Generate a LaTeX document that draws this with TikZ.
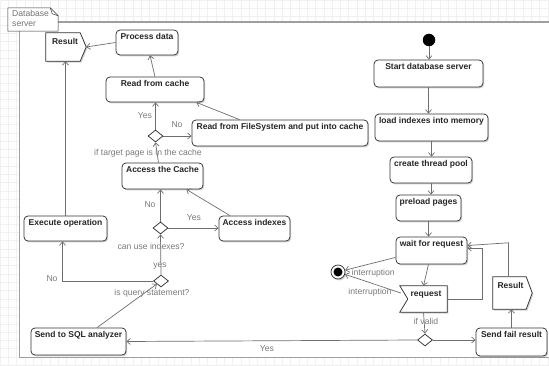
\documentclass[tikz,border=0pt]{standalone}
\usepackage{fontspec}
\setmainfont{Liberation Sans}
\usetikzlibrary{shapes.geometric,arrows.meta,calc,shadows}
\definecolor{lineg}{HTML}{6E6E6E}
\definecolor{txtg}{HTML}{7A7A7A}
\definecolor{gridc}{HTML}{F0F0F0}
\definecolor{boxc}{HTML}{333333}
\begin{document}
\begin{tikzpicture}[x=1pt,y=-1pt,
  shad/.style={drop shadow={shadow xshift=1.2pt,shadow yshift=-1.4pt,opacity=0.18,fill=black}},
  box/.style={draw=boxc, line width=0.75pt, rounded corners=4pt, fill=white, shad, inner sep=0pt},
  ghost/.style={inner sep=0pt},
  lab/.style={anchor=north, yshift=-2.6pt, font=\bfseries\fontsize{8.5}{10}\selectfont, text=black!85, inner sep=0.5pt},
  elab/.style={font=\fontsize{8.6}{10}\selectfont, text=txtg, inner sep=0.5pt},
  dec/.style={diamond, draw=boxc, line width=0.75pt, fill=white, minimum width=15pt, minimum height=12pt, inner sep=0pt},
  arr/.style={draw=lineg, line width=0.7pt, -{Straight Barb[length=3.5pt,width=6pt]}},
  sig/.style={draw=boxc, line width=0.75pt, fill=white, shad}
]
\useasboundingbox (0,0) rectangle (549,366);
\clip (0,0) rectangle (549,366);
% background grid and frame
\draw[gridc, line width=0.4pt] (0,0) grid[step=8.3pt] (549,366);
\fill[white] (19,22) rectangle (570,357);
\draw[gray!75, line width=0.8pt] (570,357) -- (19,357) -- (19,22);
\draw[gray!75, line width=1.3pt] (19,22) -- (570,22);
\node[ghost, minimum width=50pt, minimum height=23pt] (flab) at (33,19.5) {};
\draw[black!80, line width=0.5pt, fill=white] (flab.north west) -- ($(flab.north east)+(-8,0)$) -- ($(flab.north east)+(0,8)$) -- (flab.south east) -- (flab.south west) -- cycle;
\draw[black!80, line width=0.5pt] ($(flab.north east)+(-8,0)$) -- ($(flab.north east)+(-6,6)$) -- ($(flab.north east)+(0,8)$);
\node[anchor=north west, align=left, font=\fontsize{8.6}{9.6}\selectfont, text=gray!90!black, inner sep=0pt] (flabt) at (12,10.5) {Database\\server};

% left column
\node[ghost, minimum width=40pt, minimum height=28pt] (resL) at (66,47) {};
\draw[sig] (resL.north west) -- ($(resL.north east)+(-6,0)$) -- (resL.east) -- ($(resL.south east)+(-6,0)$) -- (resL.south west) -- cycle;
\node[lab, yshift=-2pt, xshift=-1pt] (resLt) at (resL.north) {Result};

\node[box, minimum width=62pt, minimum height=25pt, label={[lab]north:Process data}] (procdata) at (147,42.5) {};
\node[box, minimum width=98pt, minimum height=25pt, label={[lab]north:Read from cache}] (readcache) at (155,89.5) {};
\node[box, minimum width=176pt, minimum height=26pt, label={[lab]north:Read from FileSystem and put into cache}] (readfs) at (280,133) {};
\node[dec] (dec1) at (155.5,136) {};
\node[box, minimum width=81pt, minimum height=26pt, label={[lab]north:Access the Cache}] (accache) at (162.5,176) {};
\node[dec] (dec2) at (160.5,228) {};
\node[box, minimum width=71pt, minimum height=25pt, label={[lab]north:Access indexes}] (acidx) at (254.5,228.5) {};
\node[box, minimum width=83pt, minimum height=25pt, label={[lab]north:Execute operation}] (execop) at (65.5,228.5) {};
\node[dec] (dec3) at (161,281) {};
\node[box, minimum width=95pt, minimum height=27pt, label={[lab]north:Send to SQL analyzer}] (sqlan) at (78.5,341.5) {};

% right column
\node[circle, fill=black, minimum size=12.5pt, inner sep=0pt] (init) at (429,40) {};
\node[box, minimum width=109pt, minimum height=27pt, label={[lab]north:Start database server}] (startdb) at (428.5,73.5) {};
\node[box, minimum width=113pt, minimum height=27pt, label={[lab]north:load indexes into memory}] (loadidx) at (431.5,127.5) {};
\node[box, minimum width=82pt, minimum height=26pt, label={[lab]north:create thread pool}] (thread) at (431,170) {};
\node[box, minimum width=65pt, minimum height=26pt, label={[lab]north:preload pages}] (preload) at (428.5,208) {};
\node[box, minimum width=71pt, minimum height=27pt, label={[lab]north:wait for request}] (wait) at (431.5,250.5) {};
\node[circle, draw=boxc, line width=0.75pt, fill=white, minimum size=14pt, inner sep=0pt, shad] (final) at (338,272) {};
\node[circle, fill=black, minimum size=9pt, inner sep=0pt] (finalin) at (final) {};
\node[ghost, minimum width=47pt, minimum height=26pt] (request) at (423.5,299) {};
\draw[sig] (request.north west) -- (request.north east) -- (request.south east) -- (request.south west) -- ($(request.west)+(8,0)$) -- cycle;
\node[lab, yshift=-2pt, xshift=2.5pt] (requestt) at (request.north) {request};
\node[dec] (dec4) at (425,340) {};
\node[box, minimum width=71pt, minimum height=28pt, label={[lab]north:Send fail result}] (sendfail) at (511.5,342) {};
\node[ghost, minimum width=39pt, minimum height=32pt] (resR) at (512.5,293) {};
\draw[sig] (resR.north west) -- ($(resR.north east)+(-6,0)$) -- (resR.east) -- ($(resR.south east)+(-6,0)$) -- (resR.south west) -- cycle;
\node[lab, yshift=-2pt, xshift=-2pt] (resRt) at (resR.north) {Result};

% connectors right
\draw[arr] (init) -- (init |- startdb.north);
\draw[arr] (startdb.south) -- (startdb.south |- loadidx.north);
\draw[arr] (loadidx.south) -- (loadidx.south |- thread.north);
\draw[arr] (thread.south) -- (thread.south |- preload.north);
\draw[arr] (preload.south) -- (preload.south |- wait.north);
\draw[arr] ($(wait.south west)+(0,-7)$) -- (final);
\draw[arr] ($(request.west)+(1,-6)$) -- (final);
\draw[arr] ($(wait.south)+(-3,0)$) -- (request.north);
\draw[arr] (request.east) -- ++(35,0) |- ($(wait.east)+(0,-2.5)$);
\draw[arr] ($(resR.north)+(-4,0)$) -- ++(0,-34) -- ($(wait.east)+(0,-5)$);
\draw[arr] (request.south) -- (dec4.north);
\draw[arr] (dec4.east) -- (dec4.east -| sendfail.west);
\draw[arr] (dec4.west) -- (sqlan.east);
\draw[arr] (sendfail.north) -- (sendfail.north |- resR.south);

% connectors left
\draw[arr] ($(sqlan.north)+(18.5,0)$) -- (dec3);
\draw[arr] (dec3.west) -| ($(execop.south)+(-3,0)$);
\draw[arr] (dec3.north) -- (dec2.south);
\draw[arr] (dec2.north) -- (dec2.north |- accache.south);
\draw[arr] (dec2.east) -- (dec2.east -| acidx.west);
\draw[arr] ($(acidx.north)+(-24.5,0)$) -- ($(accache.south east)+(-17,0)$);
\draw[arr] ($(accache.north)+(-4,0)$) -- (dec1.south);
\draw[arr] (dec1.north) -- (dec1.north |- readcache.south);
\draw[arr] (dec1.east) -- (dec1.east -| readfs.west);
\draw[arr] ($(readfs.north west)+(48,0)$) -- ($(readcache.south east)+(-8,0)$);
\draw[arr] (readcache.north) -- ($(procdata.south)+(3,0)$);
\draw[arr] (procdata.west) -- (resL.east);
\draw[arr] (execop.north) -- (execop.north |- resL.south);

% edge labels
\node[elab] (l1) at (145,116) {Yes};
\node[elab] (l2) at (177,125) {No};
\node[elab] (l3) at (148,153) {if target page is in the cache};
\node[elab] (l4) at (150,204.5) {No};
\node[elab] (l5) at (194,218) {Yes};
\node[elab] (l6) at (151,246) {can use indexes?};
\node[elab] (l7) at (160,266) {yes};
\node[elab] (l8) at (52,279) {No};
\node[elab] (l9) at (152,293) {is query statement?};
\node[elab] (l10) at (267,349) {Yes};
\node[elab, anchor=west] (l11) at (351,273) {interruption};
\node[elab] (l12) at (370,292) {interruption};
\node[elab] (l13) at (426,321.5) {if valid};
\end{tikzpicture}
\end{document}
